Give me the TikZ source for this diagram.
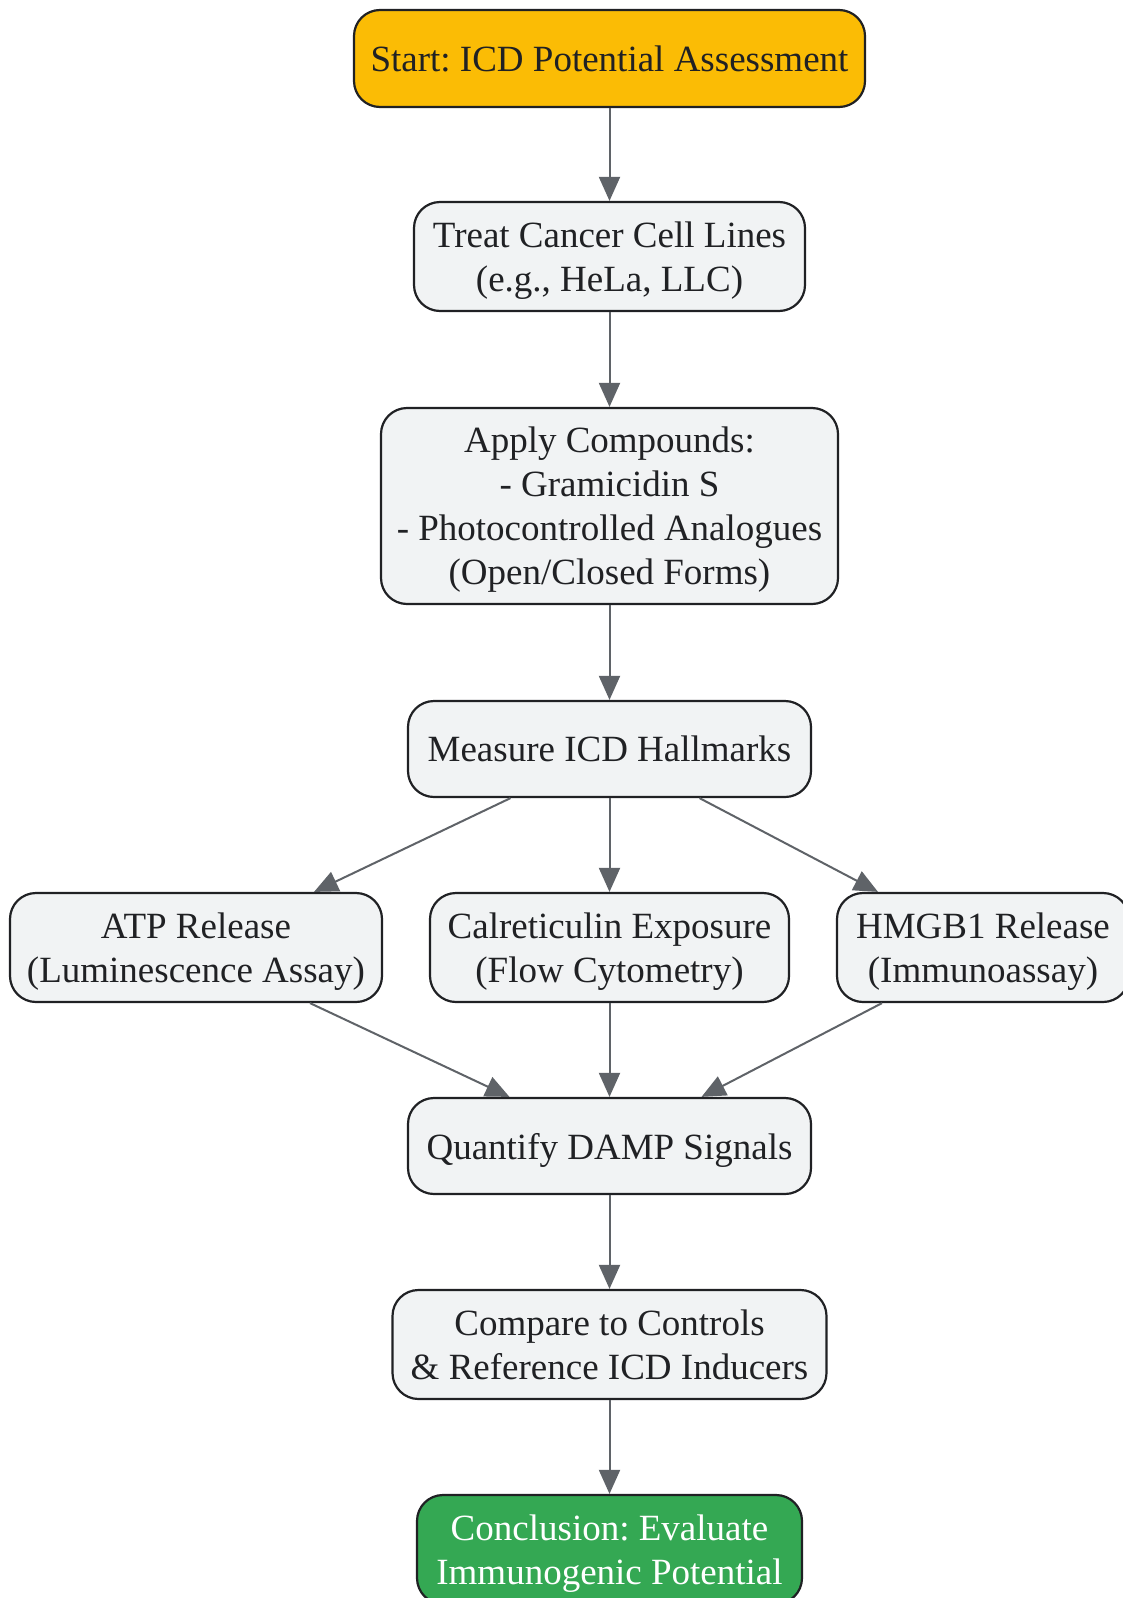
\documentclass[tikz,border=0pt]{standalone}
\usepackage{fontspec}
\setmainfont{Liberation Serif}
\usepackage{tikz}
\usetikzlibrary{arrows.meta}
\frenchspacing

\definecolor{startfill}{HTML}{FBBC05}
\definecolor{endfill}{HTML}{34A853}
\definecolor{stepfill}{HTML}{F1F3F4}
\definecolor{edgeline}{HTML}{202124}
\definecolor{flowline}{HTML}{5F6368}
\definecolor{txt}{HTML}{202124}

\tikzset{
  box/.style={draw=edgeline, line width=2.2pt, rounded corners=26pt, fill=stepfill,
    text=txt, align=center, inner sep=0pt, text depth=0pt,
    font=\fontsize{37}{44}\selectfont},
  startbox/.style={box, fill=startfill},
  endbox/.style={box, fill=endfill, text=white},
  flow/.style={draw=flowline, line width=2pt,
    -{Triangle[length=24pt,width=21pt,fill=flowline]}}
}

\begin{document}
\begin{tikzpicture}[x=1pt,y=-1pt]
\useasboundingbox (0,0) rectangle (1123,1598);
\node[startbox, minimum width=511pt, minimum height=97pt] (start) at (609.5,58.5) {Start: ICD Potential Assessment};
\node[box, minimum width=391pt, minimum height=109pt] (treat) at (609.5,256.5) {Treat Cancer Cell Lines\\(e.g., HeLa, LLC)};
\node[box, minimum width=457pt, minimum height=196pt] (apply) at (609.5,506) {Apply Compounds:\\- Gramicidin S\\- Photocontrolled Analogues\\(Open/Closed Forms)};
\node[box, minimum width=403pt, minimum height=96pt] (measure) at (609.5,749) {Measure ICD Hallmarks};
\node[box, minimum width=372pt, minimum height=109pt] (atp) at (196,947.5) {ATP Release\\(Luminescence Assay)};
\node[box, minimum width=359pt, minimum height=109pt] (crt) at (609.5,947.5) {Calreticulin Exposure\\(Flow Cytometry)};
\node[box, minimum width=292pt, minimum height=109pt] (hmgb) at (983,947.5) {HMGB1 Release\\(Immunoassay)};
\node[box, minimum width=403pt, minimum height=96pt] (quant) at (609.5,1146) {Quantify DAMP Signals};
\node[box, minimum width=434pt, minimum height=109pt] (compare) at (609.5,1344.5) {Compare to Controls\\\& Reference ICD Inducers};
\node[endbox, minimum width=385pt, minimum height=109pt] (concl) at (609.5,1549.5) {Conclusion: Evaluate\\Immunogenic Potential};

\path (start) edge[flow] (treat);
\path (treat) edge[flow] (apply);
\path (apply) edge[flow] (measure);
\path ([xshift=-99pt]measure.south) edge[flow] ([xshift=118pt]atp.north);
\path (measure) edge[flow] (crt);
\path ([xshift=90pt]measure.south) edge[flow] ([xshift=-105pt]hmgb.north);
\path ([xshift=114pt]atp.south) edge[flow] ([xshift=-100pt]quant.north);
\path (crt) edge[flow] (quant);
\path ([xshift=-101pt]hmgb.south) edge[flow] ([xshift=92pt]quant.north);
\path (quant) edge[flow] (compare);
\path (compare) edge[flow] (concl);
\end{tikzpicture}
\end{document}
